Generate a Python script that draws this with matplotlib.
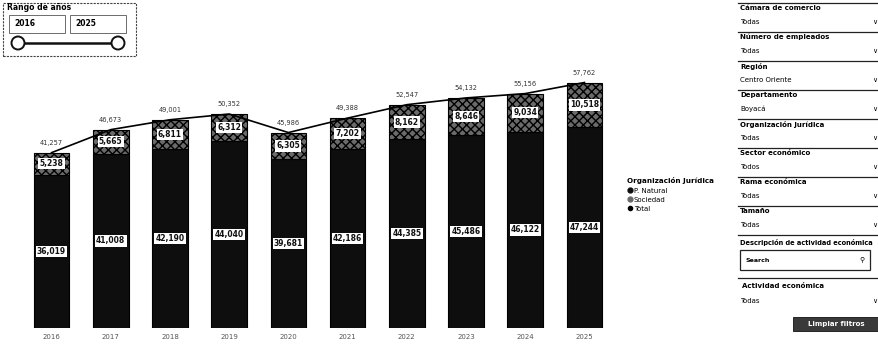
import matplotlib
matplotlib.use("Agg")
import matplotlib.pyplot as plt
from matplotlib.patches import Rectangle, Ellipse
from matplotlib.lines import Line2D
import numpy as np

# --- data ---
years = ["2016", "2017", "2018", "2019", "2020", "2021", "2022", "2023", "2024", "2025"]
p_natural = [36019, 41008, 42190, 44040, 39681, 42186, 44385, 45486, 46122, 47244]
sociedad = [5238, 5665, 6811, 6312, 6305, 7202, 8162, 8646, 9034, 10518]
total = [a + b for a, b in zip(p_natural, sociedad)]

legend_title = "Organización Jurídica"
legend_items = ["P. Natural", "Sociedad", "Total"]

filters = [
    ("Cámara de comercio", "Todas"),
    ("Número de empleados", "Todas"),
    ("Región", "Centro Oriente"),
    ("Departamento", "Boyacá"),
    ("Organización Jurídica", "Todas"),
    ("Sector económico", "Todos"),
    ("Rama económica", "Todas"),
    ("Tamaño", "Todas"),
]

W, H = 879, 356
C_NAT = "#0e0e0e"
C_SOC = "#6a6a6a"

fig = plt.figure(figsize=(W / 100, H / 100), dpi=100)
plt.rcParams["font.family"] = ["DejaVu Sans"]


def fx(px):
    return px / W


def fy(py):
    return 1 - py / H


# --- main chart ---
ax = fig.add_axes([fx(16), fy(328), fx(620 - 16), (328 - 22) / H])
x = np.arange(len(years))
ax.bar(x, p_natural, width=0.6, color=C_NAT, edgecolor="#000000", linewidth=0.8)
ax.bar(x, sociedad, width=0.6, bottom=p_natural, color=C_SOC, edgecolor="#000000",
       linewidth=0.8, hatch="xxxx")
ax.plot(x, total, color="#000000", linewidth=1.2)

box = dict(boxstyle="square,pad=0.15", facecolor="white", edgecolor="none")
for i in range(len(years)):
    ax.text(x[i], p_natural[i] / 2, f"{p_natural[i]:,}", ha="center", va="center",
            fontsize=5.5, fontweight="bold", color="#111111", bbox=box)
    ax.text(x[i], p_natural[i] + sociedad[i] / 2, f"{sociedad[i]:,}", ha="center",
            va="center", fontsize=5.5, fontweight="bold", color="#111111", bbox=box)
    ax.text(x[i], total[i] + 1600, f"{total[i]:,}", ha="center", va="bottom",
            fontsize=4.8, color="#333333")

ax.set_xlim(-0.6, 9.6)
ax.set_ylim(0, 72000)
ax.set_xticks(x)
ax.set_xticklabels(years, fontsize=5, color="#555555")
ax.tick_params(axis="x", length=0, pad=4)
ax.set_yticks([])
for s in ax.spines.values():
    s.set_visible(False)

# legend
handles = [
    Line2D([], [], marker="o", linestyle="none", color=C_NAT, markersize=3.5),
    Line2D([], [], marker="o", linestyle="none", color=C_SOC, markersize=3.5),
    Line2D([], [], marker="o", linestyle="none", color="#000000", markersize=3),
]
leg = fig.legend(handles, legend_items, title=legend_title, loc="upper left",
                 bbox_to_anchor=(fx(624), fy(174)), frameon=False, fontsize=5,
                 title_fontsize=5.2, handletextpad=0.1, labelspacing=0.45,
                 borderpad=0, handlelength=0.8, alignment="left")
leg.get_title().set_fontweight("bold")

# --- year range slicer (top left) ---
fig.patches.append(Rectangle((fx(3), fy(56)), fx(133), 53 / H, transform=fig.transFigure,
                             facecolor="white", edgecolor="#444444", linewidth=0.8,
                             linestyle=(0, (2, 1)), zorder=1))
fig.text(fx(7), fy(8), "Rango de años", fontsize=5.5, fontweight="bold", va="center")
for x0, lab in [(9, years[0]), (70, years[-1])]:
    fig.patches.append(Rectangle((fx(x0), fy(33)), fx(56), 18 / H, transform=fig.transFigure,
                                 facecolor="white", edgecolor="#555555", linewidth=0.6,
                                 zorder=2))
    fig.text(fx(x0 + 5), fy(24), lab, fontsize=5.5, fontweight="bold", va="center")
fig.add_artist(Line2D([fx(18), fx(118)], [fy(43), fy(43)], color="#111111", linewidth=1.8,
                      zorder=3))
for cx in (18, 118):
    fig.add_artist(Ellipse((fx(cx), fy(43)), 13 / W, 13 / H, transform=fig.transFigure,
                           facecolor="white", edgecolor="#111111", linewidth=1.4, zorder=4))

# --- filter panel (right) ---
px0, px1 = 738, 879
y = 8
for head, val in filters:
    fig.add_artist(Line2D([fx(px0), fx(px1)], [fy(y - 5), fy(y - 5)], color="#222222",
                          linewidth=0.9))
    fig.text(fx(px0 + 2), fy(y), head, fontsize=5, fontweight="bold", va="center")
    fig.text(fx(px0 + 2), fy(y + 14), val, fontsize=5, va="center")
    fig.text(fx(875), fy(y + 14), "∨", fontsize=5, va="center", ha="center")
    y += 29

fig.add_artist(Line2D([fx(px0), fx(px1)], [fy(y - 5), fy(y - 5)], color="#222222",
                      linewidth=0.9))
fig.text(fx(px0 + 2), fy(y + 2), "Descripción de actividad económica", fontsize=4.8,
         fontweight="bold", va="center")
fig.patches.append(Rectangle((fx(px0 + 2), fy(y + 30)), fx(130), 20 / H,
                             transform=fig.transFigure, facecolor="white",
                             edgecolor="#222222", linewidth=0.9))
fig.text(fx(px0 + 8), fy(y + 20), "Search", fontsize=4.5, fontweight="bold", va="center")
fig.text(fx(px0 + 124), fy(y + 20), "⚲", fontsize=5, va="center", ha="center")
y += 46
fig.add_artist(Line2D([fx(px0), fx(px1)], [fy(y - 8), fy(y - 8)], color="#222222",
                      linewidth=0.9))
fig.text(fx(px0 + 4), fy(y), "Actividad económica", fontsize=5, fontweight="bold",
         va="center")
fig.text(fx(px0 + 2), fy(y + 15), "Todas", fontsize=5, va="center")
fig.text(fx(875), fy(y + 15), "∨", fontsize=5, va="center", ha="center")

fig.patches.append(Rectangle((fx(793), fy(331)), fx(86), 14 / H, transform=fig.transFigure,
                             facecolor="#3a3a3a", edgecolor="#111111", linewidth=0.6))
fig.text(fx(836), fy(324), "Limpiar filtros", fontsize=5, fontweight="bold",
         color="white", va="center", ha="center")

fig.savefig("out.png", dpi=100)
